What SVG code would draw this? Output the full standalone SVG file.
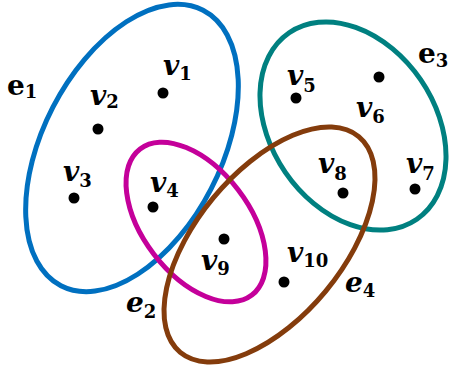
<svg xmlns="http://www.w3.org/2000/svg" width="449" height="369" viewBox="0 0 449 369">
<style>
.edge{fill:none;stroke-width:5}
.dot{fill:#000}
.vl{font-family:"DejaVu Serif","Liberation Serif",serif;font-style:italic;font-weight:bold;font-size:28px;fill:#000}
.sub{font-style:normal;font-weight:bold;font-size:18px}
.el{font-family:"DejaVu Serif","Liberation Serif",serif;font-weight:bold;font-size:28px;fill:#000}
.eli{font-style:italic}
</style>
<rect width="449" height="369" fill="#fff"/>
<g id="hyperedges">
  <g id="e1">
    <ellipse class="edge" stroke="#0070C0" cx="132" cy="148" rx="155" ry="89" transform="rotate(-62.7 132 148)"/>
    <text class="el" x="7" y="95">e<tspan class="sub" dy="3">1</tspan></text>
  </g>
  <g id="e2">
    <ellipse class="edge" stroke="#C4009A" cx="196" cy="222" rx="92" ry="53" transform="rotate(52.6 196 222)"/>
    <text class="el eli" x="126" y="312">e<tspan class="sub" dy="6">2</tspan></text>
  </g>
  <g id="e3">
    <ellipse class="edge" stroke="#008080" cx="353" cy="126" rx="113" ry="82" transform="rotate(55.6 353 126)"/>
    <text class="el" x="418" y="63">e<tspan class="sub" dy="4">3</tspan></text>
  </g>
  <g id="e4">
    <ellipse class="edge" stroke="#843C0C" cx="269.5" cy="244.5" rx="140" ry="73" transform="rotate(-50.4 269.5 244.5)"/>
    <text class="el eli" x="345" y="292">e<tspan class="sub" dy="5">4</tspan></text>
  </g>
</g>
<g id="v1"><circle class="dot" cx="163" cy="93" r="5.5"/><text class="vl" x="163" y="75">v<tspan class="sub" dy="5">1</tspan></text></g>
<g id="v2"><circle class="dot" cx="98" cy="129" r="5.5"/><text class="vl" x="90" y="105">v<tspan class="sub" dy="3">2</tspan></text></g>
<g id="v3"><circle class="dot" cx="74" cy="198" r="5.5"/><text class="vl" x="63" y="181">v<tspan class="sub" dy="6">3</tspan></text></g>
<g id="v4"><circle class="dot" cx="153" cy="207" r="5.5"/><text class="vl" x="150" y="192">v<tspan class="sub" dy="5">4</tspan></text></g>
<g id="v5"><circle class="dot" cx="296" cy="98" r="5.5"/><text class="vl" x="287" y="85">v<tspan class="sub" dy="7">5</tspan></text></g>
<g id="v6"><circle class="dot" cx="379" cy="77" r="5.5"/><text class="vl" x="356" y="117">v<tspan class="sub" dy="6">6</tspan></text></g>
<g id="v7"><circle class="dot" cx="415" cy="189" r="5.5"/><text class="vl" x="406" y="173">v<tspan class="sub" dy="7">7</tspan></text></g>
<g id="v8"><circle class="dot" cx="343" cy="193" r="5.5"/><text class="vl" x="318" y="173">v<tspan class="sub" dy="7">8</tspan></text></g>
<g id="v9"><circle class="dot" cx="224" cy="239" r="5.5"/><text class="vl" x="201" y="270">v<tspan class="sub" dy="5">9</tspan></text></g>
<g id="v10"><circle class="dot" cx="284" cy="282" r="5.5"/><text class="vl" x="287" y="262">v<tspan class="sub" dy="5">10</tspan></text></g>
<g id="connectors"/>
</svg>
